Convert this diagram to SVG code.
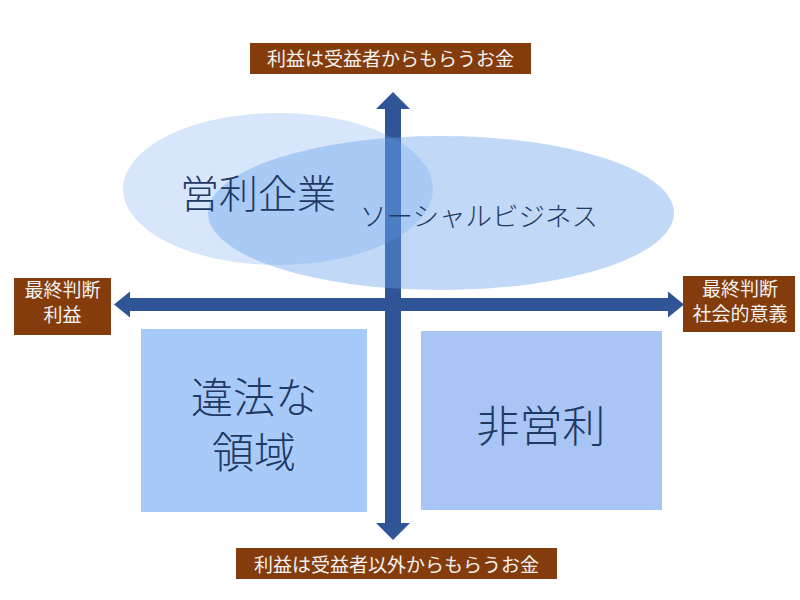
<svg xmlns="http://www.w3.org/2000/svg" width="800" height="600" viewBox="0 0 800 600">
<style>
.lbl{fill:#843C0C}
.lt{font-family:"Noto Sans CJK JP","Noto Sans",sans-serif;font-size:19px;fill:#F2F2F2;text-anchor:middle}
.bt{font-family:"Noto Sans CJK JP","Noto Sans",sans-serif;font-weight:300;fill:#1F3864;text-anchor:middle}
.arr{fill:#2F5597}
.ell{fill:#64A0EB}
</style>
<rect width="800" height="600" fill="#ffffff"/>
<g id="connectors">
<path class="arr" d="M114,304.5 L130,291.5 L130,298 L668,298 L668,291.5 L684,304.5 L668,317.5 L668,311 L130,311 L130,317.5 Z"/>
<path class="arr" d="M393,92 L410,109 L401,109 L401,523 L410,523 L393,540 L376,523 L385,523 L385,109 L376,109 Z"/>
</g>
<g id="box-illegal">
<rect x="141" y="329" width="226" height="183" fill="#A8CAF8"/>
<text class="bt" x="254" y="413" font-size="42">違法な</text>
<text class="bt" x="254" y="468" font-size="42">領域</text>
</g>
<g id="box-nonprofit">
<rect x="421" y="331" width="241" height="179" fill="#A9C5F6"/>
<text class="bt" x="541" y="442" font-size="43">非営利</text>
</g>
<g id="ellipse-forprofit">
<ellipse class="ell" cx="278" cy="189" rx="155" ry="76" opacity="0.26"/>
</g>
<g id="ellipse-social">
<ellipse class="ell" cx="441" cy="213" rx="233" ry="77" opacity="0.4"/>
</g>
<g id="text-ellipses">
<text class="bt" x="258" y="208" font-size="39">営利企業</text>
<text class="bt" x="479" y="226" font-size="26.5">ソーシャルビジネス</text>
</g>
<g id="label-top">
<rect class="lbl" x="250" y="43" width="281" height="31"/>
<text class="lt" x="390.5" y="66" font-size="20">利益は受益者からもらうお金</text>
</g>
<g id="label-bottom">
<rect class="lbl" x="236" y="548" width="321" height="31"/>
<text class="lt" x="396.5" y="572" font-size="20">利益は受益者以外からもらうお金</text>
</g>
<g id="label-left">
<rect class="lbl" x="14" y="278" width="97" height="57"/>
<text class="lt" x="62.5" y="297">最終判断</text>
<text class="lt" x="62.5" y="322">利益</text>
</g>
<g id="label-right">
<rect class="lbl" x="683" y="276" width="112" height="56"/>
<text class="lt" x="740" y="296">最終判断</text>
<text class="lt" x="740" y="321">社会的意義</text>
</g>
</svg>
